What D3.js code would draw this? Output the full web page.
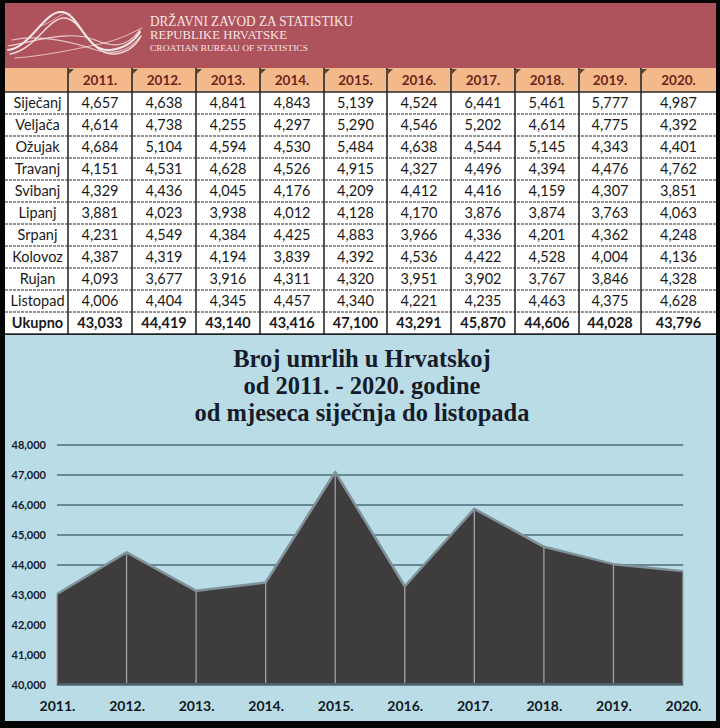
<!DOCTYPE html>
<html><head><meta charset="utf-8">
<script src="https://cdn.jsdelivr.net/npm/d3@7"></script>
<style>html,body{margin:0;padding:0;background:#000;}svg{display:block;}</style>
</head><body>
<script>
// ---------- DATA ----------
const years = ["2011.","2012.","2013.","2014.","2015.","2016.","2017.","2018.","2019.","2020."];
const months = ["Siječanj","Veljača","Ožujak","Travanj","Svibanj","Lipanj","Srpanj","Kolovoz","Rujan","Listopad"];
const sijecanj = [4657,4638,4841,4843,5139,4524,6441,5461,5777,4987];
const veljaca  = [4614,4738,4255,4297,5290,4546,5202,4614,4775,4392];
const ozujak   = [4684,5104,4594,4530,5484,4638,4544,5145,4343,4401];
const travanj  = [4151,4531,4628,4526,4915,4327,4496,4394,4476,4762];
const svibanj  = [4329,4436,4045,4176,4209,4412,4416,4159,4307,3851];
const lipanj   = [3881,4023,3938,4012,4128,4170,3876,3874,3763,4063];
const srpanj   = [4231,4549,4384,4425,4883,3966,4336,4201,4362,4248];
const kolovoz  = [4387,4319,4194,3839,4392,4536,4422,4528,4004,4136];
const rujan    = [4093,3677,3916,4311,4320,3951,3902,3767,3846,4328];
const listopad = [4006,4404,4345,4457,4340,4221,4235,4463,4375,4628];
const ukupno   = [43033,44419,43140,43416,47100,43291,45870,44606,44028,43796];
const totalLabel = "Ukupno";
const yTicks = [40000,41000,42000,43000,44000,45000,46000,47000,48000];
const titleLines = ["Broj umrlih u Hrvatskoj","od 2011. - 2020. godine","od mjeseca siječnja do listopada"];
const headerLines = ["DRŽAVNI ZAVOD ZA STATISTIKU","REPUBLIKE HRVATSKE","CROATIAN BUREAU OF STATISTICS"];

const monthRows = [sijecanj,veljaca,ozujak,travanj,svibanj,lipanj,srpanj,kolovoz,rujan,listopad];
const rowLabels = months.concat([totalLabel]);
const rowValues = monthRows.concat([ukupno]);

// ---------- LAYOUT ----------
const W = 720, H = 728;
const svg = d3.select("body").append("svg").attr("width", W).attr("height", H);
svg.append("rect").attr("width", W).attr("height", H).attr("fill", "#050505");

const L = 5, R = 716;
// header banner
svg.append("rect").attr("x", L).attr("y", 3).attr("width", R - L).attr("height", 65).attr("fill", "#ae525b");

// logo swooshes
const logo = svg.append("g").attr("fill", "none").attr("stroke", "#fbeff0").attr("stroke-linecap", "round");
const swooshes = [
  {d: "M8,50 C30,48 45,10 62,12 C80,14 85,52 110,50 C125,49 135,40 140,32", w: 2, o: 0.95},
  {d: "M10,54 C35,50 48,18 64,18 C82,18 90,56 115,54 C128,53 137,44 141,36", w: 1.5, o: 0.85},
  {d: "M8,46 C40,40 70,30 95,40 C110,46 125,50 140,30", w: 1.2, o: 0.8},
  {d: "M12,40 C40,34 72,42 96,50 C112,55 128,52 139,38", w: 1.2, o: 0.7},
  {d: "M15,58 C45,56 80,48 100,44 C118,40 130,34 142,28", w: 1, o: 0.7},
  {d: "M40,26 C55,22 62,10 70,14", w: 1, o: 0.6}
];
swooshes.forEach(s => logo.append("path").attr("d", s.d).attr("stroke-width", s.w).attr("opacity", s.o));

const hdrSpec = [{y: 26, size: 14.5, len: 203}, {y: 39, size: 12.5, len: 137}, {y: 51, size: 9, len: 158}];
headerLines.forEach((t, i) => {
  svg.append("text").attr("x", 150).attr("y", hdrSpec[i].y)
    .attr("font-family", "Liberation Serif, serif").attr("font-size", hdrSpec[i].size)
    .attr("fill", "#f6e6e7").attr("textLength", hdrSpec[i].len).attr("lengthAdjust", "spacingAndGlyphs")
    .text(t);
});

// ---------- TABLE ----------
const colEdges = [5,68,132,196,260,324,387,451,515,579,641,716];
const headTop = 68, bodyTop = 92, bodyBottom = 334;
const rowScale = d3.scaleBand().domain(rowLabels).range([bodyTop, bodyBottom]);

svg.append("rect").attr("x", L).attr("y", headTop).attr("width", R - L).attr("height", bodyTop - headTop).attr("fill", "#f4b98b");
svg.append("rect").attr("x", L).attr("y", bodyTop).attr("width", R - L).attr("height", bodyBottom - bodyTop).attr("fill", "#ffffff");

const tbl = svg.append("g");
// header year labels
years.forEach((yr, i) => {
  const x0 = colEdges[i + 1], x1 = colEdges[i + 2];
  tbl.append("text").attr("x", (x0 + x1) / 2).attr("y", 85).attr("text-anchor", "middle")
    .attr("font-family", "Lato, sans-serif").attr("font-weight", "bold").attr("font-size", 13.5)
    .attr("fill", "#6e2418").text(yr);
  tbl.append("path").attr("d", `M${x0 + 1},${headTop + 1} l5,0 l-5,5 z`).attr("fill", "#5a4a30");
});
// horizontal lines
rowLabels.forEach((r, i) => {
  const yy = rowScale(r);
  tbl.append("line").attr("x1", L).attr("x2", R).attr("y1", yy).attr("y2", yy)
    .attr("stroke", "#2a2a2a").attr("stroke-width", i === 0 ? 1.5 : 1.2)
    .attr("stroke-dasharray", i === 0 ? null : "3,1");
});
tbl.append("line").attr("x1", L).attr("x2", R).attr("y1", bodyBottom).attr("y2", bodyBottom)
  .attr("stroke", "#2a2a2a").attr("stroke-width", 1.5);
// vertical lines
colEdges.slice(1, -1).forEach(x => {
  tbl.append("line").attr("x1", x).attr("x2", x).attr("y1", headTop).attr("y2", bodyBottom)
    .attr("stroke", "#1e1e1e").attr("stroke-width", 1.5);
});
// row labels + values
rowLabels.forEach((r, i) => {
  const yc = rowScale(r) + rowScale.bandwidth() / 2 + 5;
  const bold = (r === totalLabel);
  tbl.append("text").attr("x", (colEdges[0] + colEdges[1]) / 2 + 1).attr("y", yc).attr("text-anchor", "middle")
    .attr("font-family", "Lato, sans-serif").attr("font-size", 14.5).attr("font-weight", bold ? "bold" : "normal")
    .attr("fill", "#1a1a1a").text(r);
  rowValues[i].forEach((v, j) => {
    tbl.append("text").attr("x", (colEdges[j + 1] + colEdges[j + 2]) / 2).attr("y", yc).attr("text-anchor", "middle")
      .attr("font-family", "Lato, sans-serif").attr("font-size", 14.5).attr("font-weight", bold ? "bold" : "normal")
      .attr("fill", "#1a1a1a").text(d3.format(",")(v));
  });
});

// ---------- CHART PANEL ----------
svg.append("rect").attr("x", L).attr("y", bodyBottom + 1).attr("width", R - L).attr("height", 721 - bodyBottom - 1).attr("fill", "#b9dce7");

const titleBase = [367, 394, 421];
titleLines.forEach((t, i) => {
  svg.append("text").attr("x", 362).attr("y", titleBase[i]).attr("text-anchor", "middle")
    .attr("font-family", "Liberation Serif, serif").attr("font-weight", "bold").attr("font-size", 24.5)
    .attr("fill", "#161b2a").text(t);
});

const x = d3.scalePoint().domain(years).range([57, 683]);
const y = d3.scaleLinear().domain([40000, 48000]).range([685, 445]);

// gridlines
const grid = svg.append("g");
yTicks.forEach(t => {
  grid.append("line").attr("x1", 57).attr("x2", 683).attr("y1", y(t)).attr("y2", y(t))
    .attr("stroke", "#4c6d79").attr("stroke-width", 1.6);
});

const series = years.map((yr, i) => ({yr, v: ukupno[i]}));
const area = d3.area().x(d => x(d.yr)).y0(y(40000)).y1(d => y(d.v));
const line = d3.line().x(d => x(d.yr)).y(d => y(d.v));

svg.append("path").datum(series).attr("d", area).attr("fill", "#3e3c3c");
// drop lines
svg.append("g").selectAll("line").data(series).join("line")
  .attr("x1", d => x(d.yr)).attr("x2", d => x(d.yr))
  .attr("y1", d => y(d.v)).attr("y2", y(40000))
  .attr("stroke", "#a3a3a3").attr("stroke-width", 1.3);
svg.append("path").datum(series).attr("d", line).attr("fill", "none")
  .attr("stroke", "#7f9199").attr("stroke-width", 2.5).attr("stroke-linejoin", "round");
svg.append("line").attr("x1", 57).attr("x2", 683).attr("y1", y(40000) - 1).attr("y2", y(40000) - 1)
  .attr("stroke", "#4f5f66").attr("stroke-width", 2);

// y axis
const yAxis = svg.append("g").attr("transform", "translate(46,0)")
  .call(d3.axisLeft(y).tickValues(yTicks).tickFormat(d3.format(",")).tickSize(0).tickPadding(0));
yAxis.select(".domain").remove();
yAxis.selectAll("text").attr("font-family", "Lato, sans-serif").attr("font-weight", "bold")
  .attr("font-size", 11).attr("fill", "#17202a");

// x axis
const xAxis = svg.append("g").attr("transform", "translate(0,701)")
  .call(d3.axisBottom(x).tickSize(0).tickPadding(0));
xAxis.select(".domain").remove();
xAxis.selectAll("text").attr("font-family", "Lato, sans-serif").attr("font-weight", "bold")
  .attr("font-size", 14).attr("fill", "#111820").attr("dy", "0.71em");
</script>
</body></html>
